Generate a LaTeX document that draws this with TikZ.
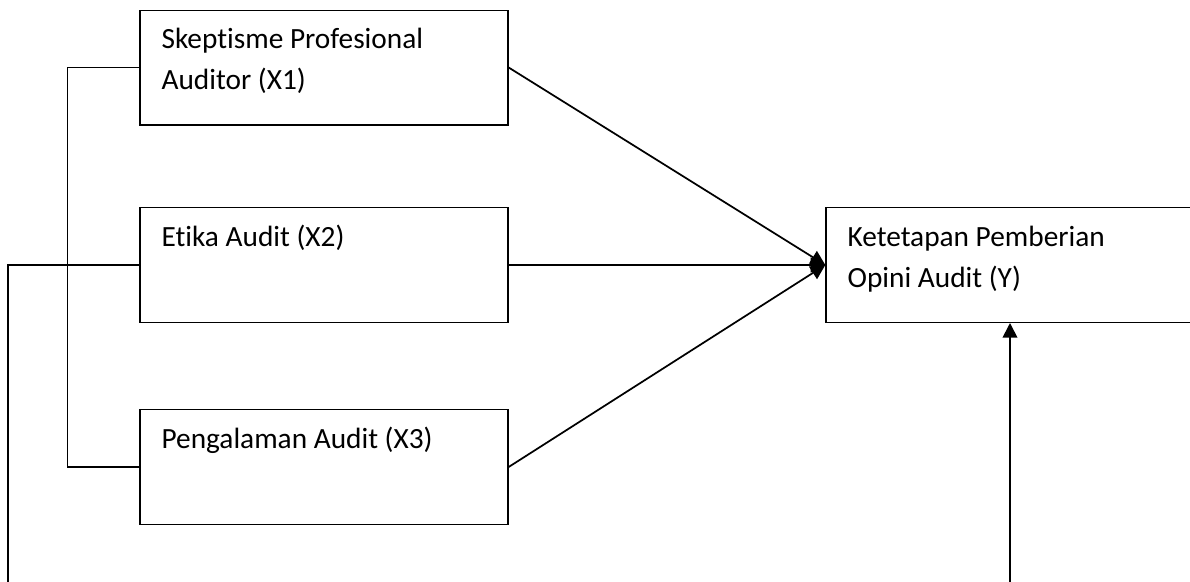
\documentclass[tikz,border=0pt]{standalone}
\usepackage{fontspec}
\setmainfont{Carlito}[Ligatures=NoCommon]
\usepackage{tikz}
\usetikzlibrary{arrows.meta,positioning}

\tikzset{
  kotak/.style={draw, line width=1pt, minimum width=276pt, minimum height=86pt, inner sep=0pt},
  teks/.style={anchor=base west, align=left, inner sep=0pt, font=\fontsize{22pt}{30.75pt}\selectfont},
  garis/.style={line width=1.3pt},
  tipis/.style={line width=1pt}
}

\begin{document}
\begin{tikzpicture}[x=0.75pt,y=-0.75pt,>={Triangle[length=11pt,width=11pt]}]
		\clip (0,0) rectangle (1190,582);
		\node[kotak] (X1) at (324,67.5) {};
		\node[kotak] (X2) at (324,265) {};
		\node[kotak] (X3) at (324,467) {};
		\node[kotak] (Y) at (1010,265) {};
		%
		% base = last line, so two-line texts go one line lower
		\node[teks] (tX1) at ([xshift=16.5pt,yshift=-60pt]X1.north west) {Skeptisme Profesional\\Auditor (X1)};
		\node[teks] (tX2) at ([xshift=16.5pt,yshift=-29.25pt]X2.north west) {Etika Audit (X2)};
		\node[teks] (tX3) at ([xshift=16.5pt,yshift=-29.25pt]X3.north west) {Pengalaman Audit (X3)};
		\node[teks] (tY) at ([xshift=16.5pt,yshift=-60pt]Y.north west) {Ketetapan Pemberian\\Opini Audit (Y)};
		%
		\path[->,garis]
		(X1.east) edge (Y.west)
		(X2.east) edge (Y.west)
		(X3.east) edge (Y.west);
		%
		\draw[tipis] (X1.west) -- ++(-72,0) |- (X3.west);
		\coordinate (bawah) at (8,600);
		\draw[tipis] (X2.west) -| (bawah);
		\draw[->,garis] (bawah) -| (Y.south);
\end{tikzpicture}
\end{document}
